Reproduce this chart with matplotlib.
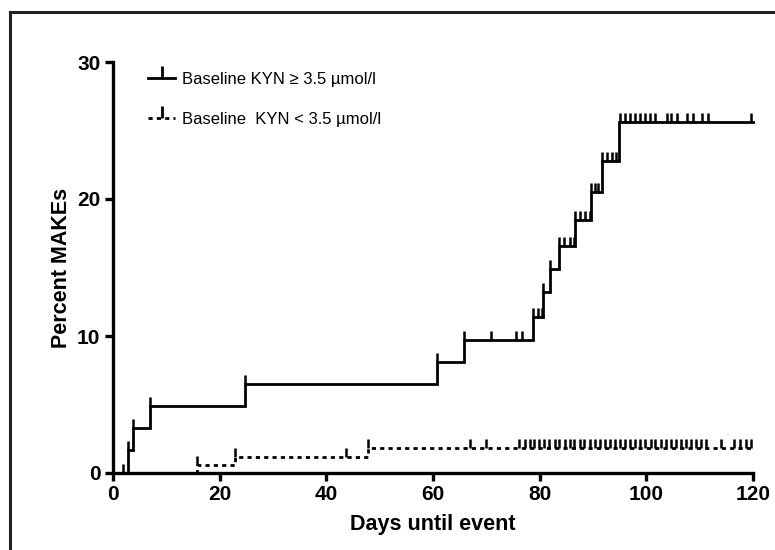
import numpy as np
import matplotlib
matplotlib.use("Agg")
import matplotlib.pyplot as plt
from matplotlib.lines import Line2D
import matplotlib.path as mpath

plt.rcParams['font.family'] = ['Liberation Sans', 'DejaVu Sans']
plt.rcParams['lines.scale_dashes'] = False

# ---- data ----
hi_label = "Baseline KYN \u2265 3.5 \u00b5mol/l"
lo_label = "Baseline  KYN < 3.5 \u00b5mol/l"

hi_times = [0, 2.9, 3.8, 7.0, 24.8, 60.8, 65.9, 78.7, 80.7, 82.0, 83.7, 86.7, 89.7, 91.6, 94.8, 120]
hi_pct = [0, 1.7, 3.3, 4.9, 6.5, 8.1, 9.7, 11.4, 13.2, 14.9, 16.6, 18.5, 20.5, 22.8, 25.6, 25.6]
hi_censor = [1.8, 2.9, 3.8, 7.0, 24.8, 60.8, 65.9, 70.8, 75.6, 76.6, 78.7, 79.6, 80.4,
             80.7, 82.0, 83.7, 84.6, 85.6, 86.4, 86.7, 87.6, 88.5, 89.4, 89.7, 90.4,
             91.0, 91.6, 92.6, 93.5, 94.3, 95.1, 96.0, 97.0, 97.9, 98.8, 99.8, 100.7,
             101.6, 103.8, 104.7, 105.7, 107.7, 108.7, 110.5, 111.5, 119.6]

lo_times = [0, 15.8, 22.8, 47.9, 120]
lo_pct = [0, 0.6, 1.2, 1.8, 1.8]
lo_censor = [15.8, 22.8, 43.7, 47.9, 67.0, 70.0, 76.2, 77.2, 78.2, 79.0, 79.9, 80.9,
             81.8, 82.8, 83.7, 84.7, 85.6, 86.5, 87.5, 88.4, 89.4, 90.3, 91.3, 92.2,
             93.2, 94.1, 95.1, 96.0, 97.0, 97.9, 98.9, 99.8, 100.8, 101.7, 102.7,
             103.6, 104.6, 105.5, 106.5, 107.4, 108.4, 109.3, 110.3, 111.2, 114.0,
             116.4, 117.6, 118.6, 119.6]

x_ticks = [0, 20, 40, 60, 80, 100, 120]
y_ticks = [0, 10, 20, 30]

# ---- figure ----
W, H = 775, 550
fig = plt.figure(figsize=(W / 100, H / 100), dpi=100)
ax = fig.add_axes([113 / W, 1 - 473 / H, 640 / W, (473 - 62) / H])

lw = 2.0
tick_h = 0.65


def step_level(times, pct, t):
    idx = np.searchsorted(times, t, side='right') - 1
    return np.asarray(pct)[idx]


ax.step(hi_times, hi_pct, where='post', color='black', lw=lw, clip_on=False,
        solid_joinstyle='miter', zorder=3)
yc = step_level(hi_times, hi_pct, hi_censor)
ax.vlines(hi_censor, yc, yc + tick_h, color='black', lw=lw * 0.9, clip_on=False, zorder=3)

ax.step(lo_times, lo_pct, where='post', color='black', lw=lw, clip_on=False,
        linestyle=(0, (3.0, 3.0)), zorder=3)
yc2 = step_level(lo_times, lo_pct, lo_censor)
ax.vlines(lo_censor, yc2, yc2 + tick_h, color='black', lw=lw * 0.9, clip_on=False, zorder=3)

ax.set_xlim(0, 120)
ax.set_ylim(0, 30)
ax.set_xticks(x_ticks)
ax.set_yticks(y_ticks)
for s in ['top', 'right']:
    ax.spines[s].set_visible(False)
for s in ['left', 'bottom']:
    ax.spines[s].set_linewidth(2.4)
ax.tick_params(direction='out', length=6, width=2.4, labelsize=15, pad=3)
for lab in ax.get_xticklabels() + ax.get_yticklabels():
    lab.set_fontweight('bold')

ax.set_xlabel("Days until event", fontsize=15.5, fontweight='bold', labelpad=7)
ax.set_ylabel("Percent MAKEs", fontsize=15.5, fontweight='bold', labelpad=4)

# legend
tick_marker = mpath.Path([(0, 0), (0, 1)], [mpath.Path.MOVETO, mpath.Path.LINETO])
h1 = Line2D([], [], color='black', lw=lw, marker=tick_marker, markersize=18,
            markeredgewidth=lw)
h2 = Line2D([], [], color='black', lw=lw, linestyle=(0, (3.0, 3.0)),
            marker=tick_marker, markersize=18, markeredgewidth=lw)
leg = ax.legend([h1, h2], [hi_label, lo_label], loc='upper left',
                bbox_to_anchor=(22 / 640, 1 + 3 / 411), frameon=False,
                handlelength=1.6, handletextpad=0.45, borderaxespad=0.4,
                labelspacing=1.5, prop={'family': ['Liberation Sans', 'DejaVu Sans'], 'size': 12})

# outer frame (left and top edges visible)
fig.add_artist(Line2D([10 / W, 10 / W], [0, 1 - 12 / H], transform=fig.transFigure,
                      color='#222222', lw=2.2))
fig.add_artist(Line2D([10 / W, 1], [1 - 12 / H, 1 - 12 / H], transform=fig.transFigure,
                      color='#222222', lw=2.2))

fig.savefig("out.png", dpi=100)
